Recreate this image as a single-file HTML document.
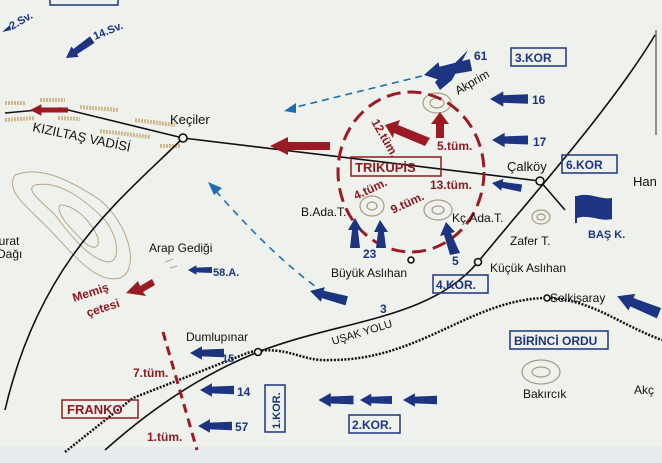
<!DOCTYPE html>
<html><head><meta charset="utf-8"><style>
html,body{margin:0;padding:0;background:#eef1ec;}
svg{display:block}
text{font-family:"Liberation Sans",sans-serif;}
.b{fill:#1d3580;font-weight:bold}
.k{fill:#111}
.r{fill:#8e1a22;font-weight:bold}
</style></head><body>
<svg width="662" height="463" viewBox="0 0 662 463" xmlns="http://www.w3.org/2000/svg">
<defs>
<symbol id="ba" viewBox="0 0 40 16" overflow="visible"><polygon points="0,8 14,0 14,4 40,3 40,13 14,12 14,16" fill="#1d3580"/></symbol>
<symbol id="ra" viewBox="0 0 60 18" overflow="visible"><polygon points="0,9 18,0 18,5 60,5 60,13 18,13 18,18" fill="#9b1b24"/></symbol>
</defs>
<rect width="662" height="463" fill="#eef1ec"/>
<rect y="447" width="662" height="16" fill="#e6ebee"/>
<rect x="50" y="-6" width="68" height="11" fill="none" stroke="#1d3580" stroke-width="1.5"/>
<line x1="656" y1="30" x2="656" y2="135" stroke="#333" stroke-width="1"/>
<g stroke="#c9a874" stroke-width="4" stroke-dasharray="2 1" opacity="0.8">
<line x1="5" y1="103" x2="25" y2="103"/><line x1="40" y1="100" x2="65" y2="100"/>
<line x1="5" y1="120" x2="35" y2="118"/><line x1="58" y1="118" x2="80" y2="119"/>
<line x1="80" y1="107" x2="118" y2="110"/><line x1="135" y1="120" x2="175" y2="125"/>
<line x1="100" y1="131" x2="150" y2="137"/><line x1="160" y1="146" x2="180" y2="146"/>
</g>
<g fill="none" stroke="#b8a68a" stroke-width="1">
<path d="M15,175 C40,165 70,180 100,200 C130,225 140,270 120,278 C95,285 70,250 45,225 C25,205 5,190 15,175Z"/>
<path d="M35,185 C60,180 85,200 105,220 C120,240 120,262 108,262 C90,260 70,235 55,215 C40,200 25,190 35,185Z"/>
<path d="M60,205 C75,205 92,222 98,238 C100,250 92,250 82,240 C70,228 55,212 60,205Z"/>
<path d="M165,262 l8,-3 M170,268 l7,-2"/>
</g>
<g fill="none" stroke="#a89a80" stroke-width="1.2">
<ellipse cx="437" cy="103" rx="14" ry="10"/><ellipse cx="437" cy="103" rx="7" ry="5"/>
<ellipse cx="372" cy="206" rx="12" ry="10"/><ellipse cx="372" cy="206" rx="5" ry="4"/>
<ellipse cx="438" cy="210" rx="14" ry="10"/><ellipse cx="438" cy="210" rx="6" ry="4"/>
<ellipse cx="541" cy="217" rx="9" ry="7"/><ellipse cx="541" cy="217" rx="4" ry="3"/>
<ellipse cx="541" cy="372" rx="19" ry="12"/><ellipse cx="541" cy="372" rx="9" ry="5"/>
</g>
<g fill="none" stroke="#111" stroke-width="1.6">
<path d="M5,113 L60,108 L183,138 L540,181"/>
<path d="M183,138 C120,200 40,260 5,410"/>
<path d="M655,35 C610,110 520,210 478,262 C430,320 340,320 258,352 C200,375 150,410 105,450"/>
<path d="M540,181 L565,210"/>
</g>
<path d="M65,452 L133,398 L250,352 C290,345 300,362 331,360 C420,360 470,300 545,298 C590,298 620,325 662,340" fill="none" stroke="#111" stroke-width="2.5" stroke-dasharray="2 1.5"/>
<g fill="#eef1ec" stroke="#111" stroke-width="1.6">
<circle cx="183" cy="138" r="4"/><circle cx="540" cy="181" r="4"/><circle cx="478" cy="262" r="3.5"/>
<circle cx="411" cy="260" r="3"/><circle cx="547" cy="298" r="3"/><circle cx="258" cy="352" r="3.5"/>
</g>
<ellipse cx="411" cy="172" rx="73" ry="80" fill="none" stroke="#9b1b24" stroke-width="3" stroke-dasharray="14 7"/>
<line x1="163" y1="332" x2="197" y2="450" stroke="#9b1b24" stroke-width="3" stroke-dasharray="9 6"/>
<path d="M422,76 L292,108" stroke="#1d6fb0" stroke-width="1.6" stroke-dasharray="7 5" fill="none"/>
<polygon points="284,111 296,103 296,113" fill="#1d6fb0"/>
<path d="M325,293 C290,270 250,230 215,190" stroke="#1d6fb0" stroke-width="1.6" stroke-dasharray="7 6" fill="none"/>
<polygon points="208,182 222,188 214,195" fill="#1d6fb0"/>
<use href="#ra" x="270" y="137" width="60" height="18"/>
<use href="#ra" x="30" y="102" width="38" height="16"/>
<polygon points="385,125 400,120 398,125 430,138 425,146 394,133 393,138" fill="#9b1b24"/>
<polygon points="440,112 449,124 444,124 444,138 436,138 436,124 431,124" fill="#9b1b24"/>
<polygon points="126,293 138,281 140,286 152,279 155,285 143,292 146,296" fill="#9b1b24"/>
<use href="#ba" x="490" y="91" width="38" height="16"/>
<use href="#ba" x="492" y="132" width="36" height="16"/>
<use href="#ba" x="188" y="264" width="24" height="12"/>
<use href="#ba" x="190" y="346" width="34" height="14"/>
<use href="#ba" x="200" y="383" width="34" height="14"/>
<use href="#ba" x="198" y="419" width="34" height="14"/>
<use href="#ba" x="318" y="393" width="36" height="14"/>
<use href="#ba" x="360" y="393" width="32" height="14"/>
<use href="#ba" x="403" y="393" width="34" height="14"/>
<g transform="translate(492,183) rotate(10)"><use href="#ba" x="0" y="-7" width="30" height="14"/></g>
<g transform="translate(310,291) rotate(15)"><use href="#ba" x="0" y="-8" width="38" height="16"/></g>
<g transform="translate(614,295) rotate(22)"><use href="#ba" x="0" y="-9" width="52" height="18"/></g>
<g transform="translate(66,58) rotate(-35)"><use href="#ba" x="0" y="-8" width="32" height="16"/></g>
<polygon points="2,32 10,25 11,30" fill="#1d3580"/>
<g transform="translate(424,75) rotate(-12)"><use href="#ba" x="0" y="-11" width="48" height="22"/></g>
<polygon points="468,50 452,80 440,90 435,82 448,70" fill="#1d3580"/>
<polygon points="355,218 362,230 358,230 360,248 350,248 352,230 348,230" fill="#1d3580"/>
<polygon points="380,220 388,232 384,232 386,248 376,248 378,232 374,232" fill="#1d3580"/>
<polygon points="446,222 455,232 451,233 460,253 450,255 444,235 440,236" fill="#1d3580"/>
<path d="M576,196 L576,223" stroke="#1d3580" stroke-width="2"/>
<path d="M577,196 C590,192 600,200 612,198 L612,219 C600,222 590,214 577,218Z" fill="#1d3580"/>
<g fill="none" stroke="#1d3580" stroke-width="1.5">
<rect x="511" y="48" width="55" height="18"/><rect x="562" y="155" width="55" height="18"/>
<rect x="433" y="275" width="55" height="18"/><rect x="510" y="331" width="98" height="18"/>
<rect x="349" y="415" width="51" height="18"/><rect x="265" y="385" width="20" height="47"/>
</g>
<rect x="351" y="157" width="90" height="19" fill="none" stroke="#8e1a22" stroke-width="1.5"/>
<rect x="62" y="400" width="76" height="18" fill="none" stroke="#8e1a22" stroke-width="1.5"/>
<g font-size="12">
<text class="b" x="515" y="62" font-size="12">3.KOR</text>
<text class="b" x="566" y="169" font-size="12">6.KOR</text>
<text class="b" x="436" y="289" font-size="12">4.KOR.</text>
<text class="b" x="514" y="345" font-size="12">BİRİNCİ ORDU</text>
<text class="b" x="352" y="429" font-size="12">2.KOR.</text>
<text class="b" font-size="11" transform="translate(280,429) rotate(-90)">1.KOR.</text>
<text class="r" x="355" y="172" font-size="13">TRİKUPİS</text>
<text class="r" x="67" y="414" font-size="13">FRANKO</text>
<text class="b" x="474" y="60">61</text>
<text class="b" x="532" y="104">16</text>
<text class="b" x="533" y="146">17</text>
<text class="b" x="363" y="258">23</text>
<text class="b" x="452" y="265">5</text>
<text class="b" x="380" y="313">3</text>
<text class="b" x="213" y="276" font-size="11">58.A.</text>
<text class="b" x="222" y="362" font-size="11">15</text>
<text class="b" x="237" y="396">14</text>
<text class="b" x="235" y="431">57</text>
<text class="b" x="588" y="238" font-size="11">BAŞ K.</text>
<text class="b" transform="translate(95,40) rotate(-22)" font-size="11">14.Sv.</text>
<text class="b" transform="translate(12,30) rotate(-30)" font-size="11">2.Sv.</text>
<text class="k" x="170" y="124" font-size="13">Keçiler</text>
<text class="k" x="507" y="171" font-size="13">Çalköy</text>
<text class="k" transform="translate(458,95) rotate(-30)" font-size="12">Akprim</text>
<text class="k" x="633" y="186" font-size="13">Han</text>
<text class="k" x="510" y="245">Zafer T.</text>
<text class="k" x="452" y="222">Kç.Ada.T.</text>
<text class="k" x="301" y="216">B.Ada.T.</text>
<text class="k" x="331" y="277">Büyük Aslıhan</text>
<text class="k" x="490" y="272">Küçük Aslıhan</text>
<text class="k" x="550" y="302">Selkisaray</text>
<text class="k" x="523" y="398">Bakırcık</text>
<text class="k" x="634" y="394">Akç</text>
<text class="k" x="186" y="341">Dumlupınar</text>
<text class="k" x="149" y="252">Arap Gediği</text>
<text class="k" x="-4" y="245">lurat</text>
<text class="k" x="-3" y="258">Dağı</text>
<text class="k" transform="translate(32,131) rotate(12)" font-size="13">KIZILTAŞ VADİSİ</text>
<text class="k" transform="translate(333,345) rotate(-17)" font-size="11">UŞAK YOLU</text>
<text class="r" transform="translate(74,302) rotate(-18)" font-weight="normal">Memiş</text>
<text class="r" transform="translate(88,317) rotate(-18)" font-weight="normal">çetesi</text>
<text class="r" x="133" y="377">7.tüm.</text>
<text class="r" x="147" y="441">1.tüm.</text>
<text class="r" transform="translate(371,122) rotate(60)">12.tüm.</text>
<text class="r" x="437" y="150">5.tüm.</text>
<text class="r" x="430" y="189">13.tüm.</text>
<text class="r" transform="translate(356,200) rotate(-25)">4.tüm.</text>
<text class="r" transform="translate(393,214) rotate(-25)">9.tüm.</text>
</g>
</svg>
</body></html>
